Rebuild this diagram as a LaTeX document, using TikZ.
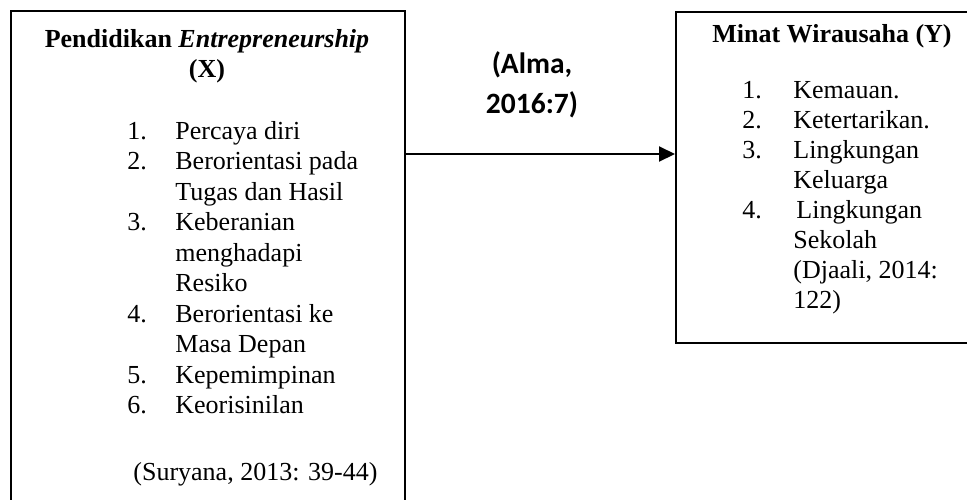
\documentclass[tikz,border=0pt]{standalone}
\usepackage{fontspec}
\setmainfont{Liberation Serif}
\newfontfamily\calibri{Carlito}
\usetikzlibrary{arrows.meta}

\begin{document}
\begin{tikzpicture}[x=0.5pt,y=-0.5pt,
  varbox/.style={draw, line width=1pt, inner sep=0pt, anchor=north west},
  txt/.style={inner sep=0pt, font=\fontsize{13}{15.25}\selectfont},
  head/.style={inner sep=0pt, font=\fontsize{13}{15.25}\selectfont\bfseries},
  ref/.style={inner sep=0pt, font=\fontsize{14.75}{20}\selectfont\calibri\bfseries},
  arr/.style={line width=1pt, -{Triangle[length=8pt,width=7.5pt]}}]
  \useasboundingbox (0,0) rectangle (967,499);
  \clip (0,0) rectangle (967,499);
  % the two variable boxes (both run off the page)
  \node[varbox, minimum width=197pt, minimum height=255pt] (boxX) at (10,10) {};
  \node[varbox, minimum width=170pt, minimum height=165.5pt] (boxY) at (675,11) {};
  % X: Pendidikan Entrepreneurship
  \node[head, anchor=base] (headX) at (207,47) {Pendidikan \textit{Entrepreneurship}};
  \node[head, anchor=base] (headXb) at (207,77) {(X)};
  \foreach \t [count=\i] in {Percaya diri, Berorientasi pada, Tugas dan Hasil, Keberanian,
      menghadapi, Resiko, Berorientasi ke, Masa Depan, Kepemimpinan, Keorisinilan}
    \node[txt, anchor=base west] (itemX\i) at (175,{139+30.5*(\i-1)}) {\t};
  \foreach \n/\i in {1/1,2/2,3/4,4/7,5/9,6/10}
    \node[txt, anchor=base west] (numX\n) at (127,{139+30.5*(\i-1)}) {\n.};
  \node[txt, anchor=base west] (srcX) at (133,480) {(Suryana, 2013: 39-44)};
  % Y: Minat Wirausaha
  \node[head, anchor=base] (headY) at (832,42) {Minat Wirausaha (Y)};
  \foreach \t [count=\i] in {Kemauan., Ketertarikan., Lingkungan, Keluarga,
      \kern1.5pt Lingkungan, Sekolah, {(Djaali, 2014:}, 122)}
    \node[txt, anchor=base west] (itemY\i) at (793,{98+30*(\i-1)}) {\t};
  \foreach \n/\i in {1/1,2/2,3/3,4/5}
    \node[txt, anchor=base west] (numY\n) at (742,{98+30*(\i-1)}) {\n.};
  % reference over the arrow
  \node[ref, anchor=base] (refA) at (532,73) {(Alma,};
  \node[ref, anchor=base] (refB) at (532,113) {2016:7)};
  \coordinate (lvl) at (0,154);
  \draw[arr] (boxX.east |- lvl) -- (boxY.west |- lvl);
\end{tikzpicture}
\end{document}
